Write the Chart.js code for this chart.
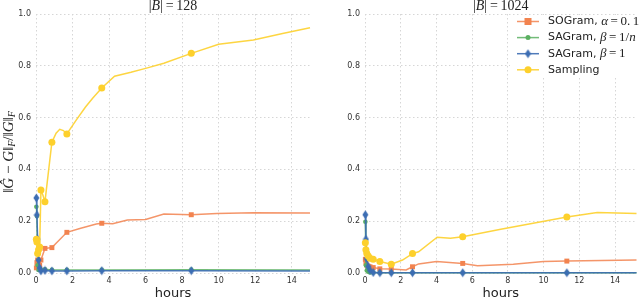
<!DOCTYPE html>
<html lang="en">
<head>
<meta charset="UTF-8">
<title>Gram approximation error vs time</title>
<script src="https://cdn.jsdelivr.net/npm/chart.js"></script>
<style>
  body { margin: 0; background: #fff; }
  .panel { position: absolute; top: 0; width: 320px; height: 300px; }
</style>
</head>
<body>
<div class="panel" style="left:0"><canvas id="left" width="320" height="300"></canvas></div>
<div class="panel" style="left:320px"><canvas id="right" width="320" height="300"></canvas></div>
<script>
// ---- data: |B| = 128 ----
const soTimes128 = [0.02, 0.05, 0.09, 0.14, 0.2, 0.27, 0.49, 0.87, 1.69, 2.4, 3.3, 3.6, 4.2, 5.0, 6.0, 7.0, 8.5, 9.9, 11.9, 15.0];
const soVals128  = [0.02, 0.04, 0.05, 0.035, 0.03, 0.05, 0.095, 0.098, 0.157, 0.172, 0.189, 0.192, 0.19, 0.205, 0.207, 0.228, 0.225, 0.23, 0.233, 0.232];
const saTimes128 = [0.02, 0.05, 0.09, 0.14, 0.2, 0.27, 0.49, 0.87, 1.69, 3.6, 8.5, 15.0];
const saNVals128 = [0.256, 0.22, 0.03, 0.012, 0.015, 0.012, 0.014, 0.012, 0.012, 0.012, 0.013, 0.012];
const sa1Vals128 = [0.29, 0.224, 0.13, 0.05, 0.02, 0.008, 0.01, 0.008, 0.008, 0.009, 0.009, 0.008];
const smTimes128 = [0.02, 0.05, 0.09, 0.14, 0.2, 0.27, 0.38, 0.49, 0.87, 1.1, 1.3, 1.5, 1.69, 2.2, 2.7, 3.1, 3.6, 4.3, 5.2, 6.0, 7.0, 8.5, 10.0, 11.9, 13.5, 15.0];
const smVals128  = [0.13, 0.12, 0.075, 0.09, 0.1, 0.32, 0.3, 0.275, 0.505, 0.54, 0.555, 0.55, 0.537, 0.59, 0.64, 0.675, 0.714, 0.76, 0.775, 0.79, 0.81, 0.848, 0.883, 0.9, 0.925, 0.947];
const marks128 = [0.02, 0.05, 0.09, 0.14, 0.2, 0.27, 0.49, 0.87, 1.69, 3.6, 8.5];

// ---- data: |B| = 1024 ----
const soTimes1024 = [0.02, 0.05, 0.1, 0.18, 0.28, 0.46, 0.83, 1.47, 2.3, 2.66, 3.0, 4.0, 5.47, 6.3, 8.3, 10.0, 11.3, 15.2];
const soVals1024  = [0.053, 0.04, 0.03, 0.026, 0.024, 0.021, 0.016, 0.015, 0.012, 0.024, 0.035, 0.044, 0.037, 0.028, 0.034, 0.044, 0.046, 0.05];
const saTimes1024 = [0.02, 0.05, 0.1, 0.18, 0.28, 0.46, 0.83, 1.47, 2.66, 5.47, 11.3, 15.2];
const saNVals1024 = [0.198, 0.03, 0.01, 0.005, 0.002, 0.002, 0.001, 0.001, 0.001, 0.001, 0.001, 0.001];
const sa1Vals1024 = [0.225, 0.13, 0.055, 0.025, 0.01, 0.002, 0.001, 0.001, 0.001, 0.001, 0.001, 0.001];
const smTimes1024 = [0.02, 0.05, 0.1, 0.18, 0.28, 0.46, 0.83, 1.47, 2.1, 2.66, 3.0, 4.04, 4.78, 5.47, 7.6, 11.3, 13.0, 15.2];
const smVals1024  = [0.117, 0.09, 0.075, 0.066, 0.057, 0.053, 0.044, 0.034, 0.05, 0.075, 0.082, 0.138, 0.134, 0.14, 0.169, 0.216, 0.234, 0.23];
const marks1024 = [0.02, 0.05, 0.1, 0.18, 0.28, 0.46, 0.83, 1.47, 2.66, 5.47, 11.3];

const xTicksMax = [15, 15.2];

const colors = {
  so: '#f2834f', saN: '#5bb061', sa1: '#3c6db3', sm: '#fdd02c'
};
const lineAlpha = { so: 'rgba(242,131,79,0.85)', saN: 'rgba(91,176,97,0.85)', sa1: 'rgba(60,109,179,0.9)', sm: 'rgba(253,208,44,0.9)' };

const serif = '"Liberation Serif", "DejaVu Serif", serif';
const sans = '"DejaVu Sans", sans-serif';

// thin diamond marker, like matplotlib 'd'
function thinDiamond(color) {
  const c = document.createElement('canvas');
  c.width = 7; c.height = 10;
  const g = c.getContext('2d');
  g.fillStyle = color;
  g.beginPath();
  g.moveTo(3.5, 0.5); g.lineTo(6.5, 5); g.lineTo(3.5, 9.5); g.lineTo(0.5, 5);
  g.closePath(); g.fill();
  return c;
}
const diamond = thinDiamond(colors.sa1);

function pts(t, v) { return t.map((x, i) => ({ x: x, y: v[i] })); }

function drawRuns(ctx, runs, x, y, align) {
  let w = 0;
  runs.forEach(r => { ctx.font = r.font; w += ctx.measureText(r.text).width; });
  let cx = align === 'center' ? x - w / 2 : x;
  ctx.textBaseline = 'middle';
  ctx.textAlign = 'left';
  runs.forEach(r => {
    ctx.font = r.font;
    ctx.fillText(r.text, cx, y + (r.dy || 0));
    cx += ctx.measureText(r.text).width;
  });
}

const legendItems = [
  { key: 'so', style: 'rect', runs: [{ text: 'SOGram, ', font: '11px ' + sans }, { text: 'α', font: 'italic 13px ' + serif }, { text: '\u2009=\u20090.\u20091', font: '13px ' + serif }] },
  { key: 'saN', style: 'dot', runs: [{ text: 'SAGram, ', font: '11px ' + sans }, { text: 'β', font: 'italic 13px ' + serif }, { text: '\u2009=\u20091/', font: '13px ' + serif }, { text: 'n', font: 'italic 13px ' + serif }] },
  { key: 'sa1', style: 'diamond', runs: [{ text: 'SAGram, ', font: '11px ' + sans }, { text: 'β', font: 'italic 13px ' + serif }, { text: '\u2009=\u20091', font: '13px ' + serif }] },
  { key: 'sm', style: 'circle', runs: [{ text: 'Sampling', font: '11px ' + sans }] }
];

const decorPlugin = {
  id: 'decor',
  afterDraw(chart, args, opts) {
    const ctx = chart.ctx;
    const area = chart.chartArea;
    ctx.save();
    ctx.fillStyle = '#222';
    // title |B| = n
    drawRuns(ctx, [
      { text: '|', font: '14px ' + serif },
      { text: 'B', font: 'italic 14px ' + serif },
      { text: '|\u2009=\u2009' + opts.size, font: '14px ' + serif }
    ], (area.left + area.right) / 2 + opts.titleShift, 6, 'center');

    if (opts.ylabel) {
      ctx.save();
      ctx.translate(9, 152);
      ctx.rotate(-Math.PI / 2);
      const f = '15px ' + serif, fi = 'italic 15px ' + serif, fs = 'italic 10px ' + serif;
      drawRuns(ctx, [
        { text: '‖', font: f }, { text: 'Ĝ', font: fi }, { text: ' − ', font: f }, { text: 'G', font: fi },
        { text: '‖', font: f }, { text: 'F', font: fs, dy: 3 }, { text: '/', font: f },
        { text: '‖', font: f }, { text: 'G', font: fi }, { text: '‖', font: f }, { text: 'F', font: fs, dy: 3 }
      ], 0, 0, 'center');
      ctx.restore();
    }

    if (opts.legend) {
      ctx.fillStyle = '#fff';
      ctx.fillRect(190, 15, 130, 63);
      legendItems.forEach((it, i) => {
        const y = 21.5 + i * 16.1;
        ctx.strokeStyle = lineAlpha[it.key];
        ctx.lineWidth = 1.5;
        ctx.beginPath(); ctx.moveTo(197, y); ctx.lineTo(219, y); ctx.stroke();
        ctx.fillStyle = colors[it.key];
        if (it.style === 'rect') ctx.fillRect(204.5, y - 3.5, 7, 7);
        else if (it.style === 'dot') { ctx.beginPath(); ctx.arc(208, y, 2.5, 0, Math.PI * 2); ctx.fill(); }
        else if (it.style === 'circle') { ctx.beginPath(); ctx.arc(208, y, 3.5, 0, Math.PI * 2); ctx.fill(); }
        else ctx.drawImage(diamond, 208 - 3.5, y - 5);
        ctx.fillStyle = '#222';
        drawRuns(ctx, it.runs, 228, y, 'left');
      });
    }
    ctx.restore();
  }
};

function series(label, key, data, marks, style, r, order) {
  return {
    label: label,
    data: data,
    borderColor: lineAlpha[key],
    backgroundColor: colors[key],
    borderWidth: 1.5,
    pointStyle: style,
    pointBorderWidth: 0,
    pointRadius: c => (c.raw && marks.includes(c.raw.x)) ? r : 0,
    pointHoverRadius: c => (c.raw && marks.includes(c.raw.x)) ? r : 0,
    tension: 0,
    clip: false,
    order: order
  };
}

function makeChart(id, d, cfg) {
  const gridColor = '#d6d6d6';
  return new Chart(document.getElementById(id), {
    type: 'line',
    data: {
      datasets: [
        series('SOGram, α = 0.1', 'so', pts(d.soT, d.soV), d.marks, 'rect', 3.5, 3),
        series('SAGram, β = 1/n', 'saN', pts(d.saT, d.saNV), d.marks, 'circle', 2.3, 2),
        series('SAGram, β = 1', 'sa1', pts(d.saT, d.sa1V), d.marks, diamond, 3, 1),
        series('Sampling', 'sm', pts(d.smT, d.smV), d.marks, 'circle', 3.5, 0)
      ]
    },
    options: {
      responsive: false,
      animation: false,
      events: [],
      layout: { padding: { left: 0, right: cfg.padRight, top: 14, bottom: 0 } },
      plugins: {
        legend: { display: false },
        tooltip: { enabled: false },
        decor: { size: cfg.size, ylabel: cfg.ylabel, legend: cfg.legend, titleShift: cfg.titleShift }
      },
      scales: {
        x: {
          type: 'linear', min: 0, max: cfg.xmax,
          ticks: { stepSize: 2, includeBounds: false, color: '#333', font: { family: sans, size: 8 }, padding: 3, maxRotation: 0 },
          grid: { color: gridColor, lineWidth: 1, drawTicks: false },
          border: { display: false, dash: [1.5, 2.5] },
          title: { display: true, text: 'hours', color: '#222', font: { family: sans, size: 13, lineHeight: 1 }, padding: { top: 0, bottom: 0 } },
          afterFit: s => { s.height = 27; }
        },
        y: {
          min: 0, max: 1,
          ticks: { stepSize: 0.2, color: '#333', font: { family: sans, size: 8 }, padding: 5, callback: v => v.toFixed(1) },
          grid: { color: gridColor, lineWidth: 1, drawTicks: false },
          border: { display: false, dash: [1.5, 2.5] },
          afterFit: s => { s.width = cfg.yWidth; }
        }
      }
    },
    plugins: [decorPlugin]
  });
}

makeChart('left', {
  soT: soTimes128, soV: soVals128, saT: saTimes128, saNV: saNVals128, sa1V: sa1Vals128,
  smT: smTimes128, smV: smVals128, marks: marks128
}, { size: 128, ylabel: true, legend: false, xmax: xTicksMax[0], yWidth: 36, padRight: 10, titleShift: 0 });

makeChart('right', {
  soT: soTimes1024, soV: soVals1024, saT: saTimes1024, saNV: saNVals1024, sa1V: sa1Vals1024,
  smT: smTimes1024, smV: smVals1024, marks: marks1024
}, { size: 1024, ylabel: false, legend: true, xmax: xTicksMax[1], yWidth: 45, padRight: 0, titleShift: 0 });
</script>
</body>
</html>
